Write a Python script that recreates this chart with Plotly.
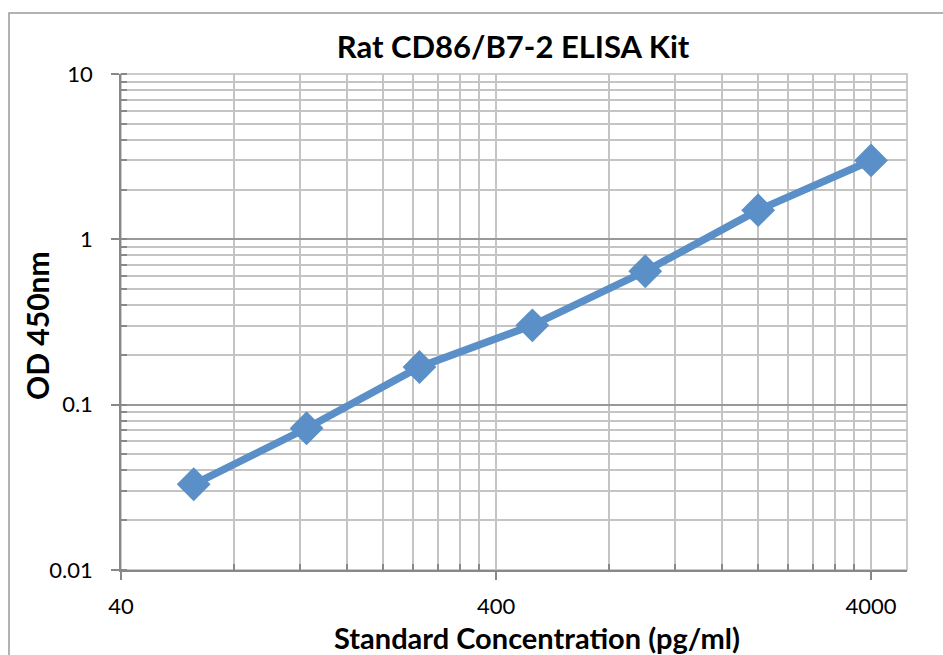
import plotly.graph_objects as go
import numpy as np

concentration = [62.5, 125, 250, 500, 1000, 2000, 4000]
od450 = [0.033, 0.072, 0.169, 0.302, 0.641, 1.50, 3.0]

x_ticks = [40, 400, 4000]
x_tick_labels = ["40", "400", "4000"]
x_minor = [80, 120, 160, 200, 240, 280, 320, 360, 800, 1200, 1600, 2000, 2400, 2800, 3200, 3600]
y_ticks = [0.01, 0.1, 1, 10]
y_tick_labels = ["0.01", "0.1", "1", "10"]

FONT = "Lato"
L, R, T, B = 121, 36, 74, 85
W, H = 943, 655
pw, ph = W - L - R, H - T - B

fig = go.Figure()
fig.add_trace(go.Scatter(
    x=concentration, y=od450, mode="lines+markers",
    line=dict(color="#5b8fc7", width=7.5),
    marker=dict(symbol="diamond", size=26, color="#5b8fc7"),
    showlegend=False,
))

fig.update_layout(
    width=W, height=H,
    margin=dict(l=L, r=R, t=T, b=B),
    paper_bgcolor="white", plot_bgcolor="white",
    font=dict(family=FONT, color="#000000"),
    title=dict(text="<b>Rat CD86/B7-2 ELISA Kit</b>", x=513 / W, xanchor="center",
               y=1 - 47 / H, yanchor="middle", font=dict(size=31, family=FONT)),
    xaxis=dict(
        type="log", range=[np.log10(40), np.log10(4988)],
        tickmode="array", tickvals=x_ticks, ticktext=x_tick_labels,
        ticks="outside", ticklen=8, tickcolor="#888888", tickwidth=1.5,
        ticklabelstandoff=8,
        tickfont=dict(size=22, family=FONT),
        showgrid=True, gridcolor="#c4c4c4", gridwidth=1.5,
        showline=True, linecolor="#888888", linewidth=1.5, mirror=False,
        minor=dict(tickmode="array", tickvals=x_minor, ticks="inside", ticklen=6,
                   tickcolor="#888888", showgrid=True, gridcolor="#c4c4c4", gridwidth=1.5),
        zeroline=False,
    ),
    yaxis=dict(
        type="log", range=[-2, 1],
        tickmode="array", tickvals=y_ticks, ticktext=y_tick_labels,
        ticks="outside", ticklen=8, tickcolor="#888888", tickwidth=1.5,
        ticklabelstandoff=14,
        tickfont=dict(size=22, family=FONT),
        showgrid=True, gridcolor="#999999", gridwidth=1.5,
        showline=True, linecolor="#888888", linewidth=1.5,
        minor=dict(dtick="D1", ticks="inside", ticklen=6, tickcolor="#888888",
                   showgrid=True, gridcolor="#c4c4c4", gridwidth=1.5),
        zeroline=False,
    ),
)

# top and right plot-area border
fig.add_shape(type="rect", xref="paper", yref="paper", x0=0, x1=1, y0=0, y1=1,
              line=dict(color="#bbbbbb", width=1.5), layer="below")

# chart frame (extends beyond the picture on right and bottom)
fig.add_shape(type="rect", xref="paper", yref="paper",
              x0=(9 - L) / pw, x1=(W + 10 - L) / pw,
              y0=(H - B - (H + 10)) / ph, y1=(H - B - 13) / ph,
              line=dict(color="#999999", width=1.5))

fig.add_annotation(text="<b>Standard Concentration (pg/ml)</b>", xref="paper", yref="paper",
                   x=(537 - L) / pw, y=(H - B - 637) / ph, xanchor="center", yanchor="middle",
                   showarrow=False, font=dict(size=29, family=FONT))
fig.add_annotation(text="<b>OD 450nm</b>", xref="paper", yref="paper",
                   x=(37 - L) / pw, y=(H - B - 326) / ph, xanchor="center", yanchor="middle",
                   textangle=-90, showarrow=False, font=dict(size=30, family=FONT))

fig.write_html("out.html", config={"displayModeBar": False},
               post_script="document.body.style.margin='0';")
